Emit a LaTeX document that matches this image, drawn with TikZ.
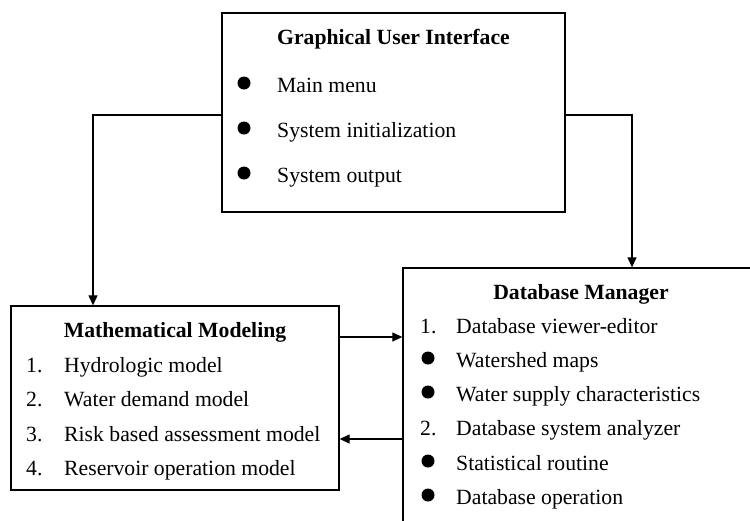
\documentclass[tikz,border=0pt]{standalone}
\usepackage{fontspec}
\setmainfont{Liberation Serif}
\usetikzlibrary{arrows.meta}

\tikzset{
  box/.style={draw, line width=1.3pt, rectangle, inner sep=0pt},
  flow/.style={line width=1.2pt, -{Triangle[length=10pt,width=9pt]}},
  item/.style={anchor=base west, inner sep=0pt, font=\fontsize{21.7}{26}\selectfont},
  heading/.style={anchor=base, inner sep=0pt, font=\fontsize{21.7}{26}\selectfont\bfseries},
  dot/.style={circle, fill, inner sep=0pt, minimum size=13pt}
}

\begin{document}
\begin{tikzpicture}[x=1pt, y=-1pt]
\clip (0,0) rectangle (750,520);

% the three boxes
\node[box, minimum width=343pt, minimum height=199pt] (gui) at (393.5,112.5) {};
\node[box, minimum width=328pt, minimum height=184pt] (model) at (175,398) {};
\node[box, minimum width=356pt, minimum height=270pt] (dbm) at (581,403) {};

% Graphical User Interface
\node[heading] (guihead) at (gui.center |- 0,44) {Graphical User Interface};
\foreach \txt [count=\i] in {Main menu, System initialization, System output} {
  \node[dot] (gui-dot-\i) at (244,{92+45*(\i-1)-9}) {};
  \node[item] (gui-\i) at (277,{92+45*(\i-1)}) {\txt};
}

% Mathematical Modeling
\node[heading] (modelhead) at (model.center |- 0,337) {Mathematical Modeling};
\foreach \txt [count=\i] in {Hydrologic model, Water demand model, Risk based assessment model, Reservoir operation model} {
  \node[item] (model-num-\i) at (26,{372+34.5*(\i-1)}) {\i.};
  \node[item] (model-\i) at (64,{372+34.5*(\i-1)}) {\txt};
}

% Database Manager
\node[heading] (dbmhead) at (dbm.center |- 0,299) {Database Manager};
\node[item] (dbm-num-1) at (420,333) {1.};
\node[item] (dbm-1) at (456,333) {Database viewer-editor};
\node[dot] (dbm-dot-2) at (428,358) {};
\node[item] (dbm-2) at (456,367) {Watershed maps};
\node[dot] (dbm-dot-3) at (428,392) {};
\node[item] (dbm-3) at (456,401) {Water supply characteristics};
\node[item] (dbm-num-4) at (420,435) {2.};
\node[item] (dbm-4) at (456,435) {Database system analyzer};
\node[dot] (dbm-dot-5) at (428,461) {};
\node[item] (dbm-5) at (456,470) {Statistical routine};
\node[dot] (dbm-dot-6) at (428,495) {};
\node[item] (dbm-6) at (456,504) {Database operation};

% connectors
\coordinate (gl) at (93,115);
\coordinate (gr) at (632,115);
\draw[flow] (gui.west |- gl) -| (model.north -| gl);
\draw[flow] (gui.east |- gr) -| (dbm.north -| gr);
\draw[flow] (model.east |- 0,337) -- (dbm.west |- 0,337);
\draw[flow] (dbm.west |- 0,439) -- (model.east |- 0,439);
\end{tikzpicture}
\end{document}
